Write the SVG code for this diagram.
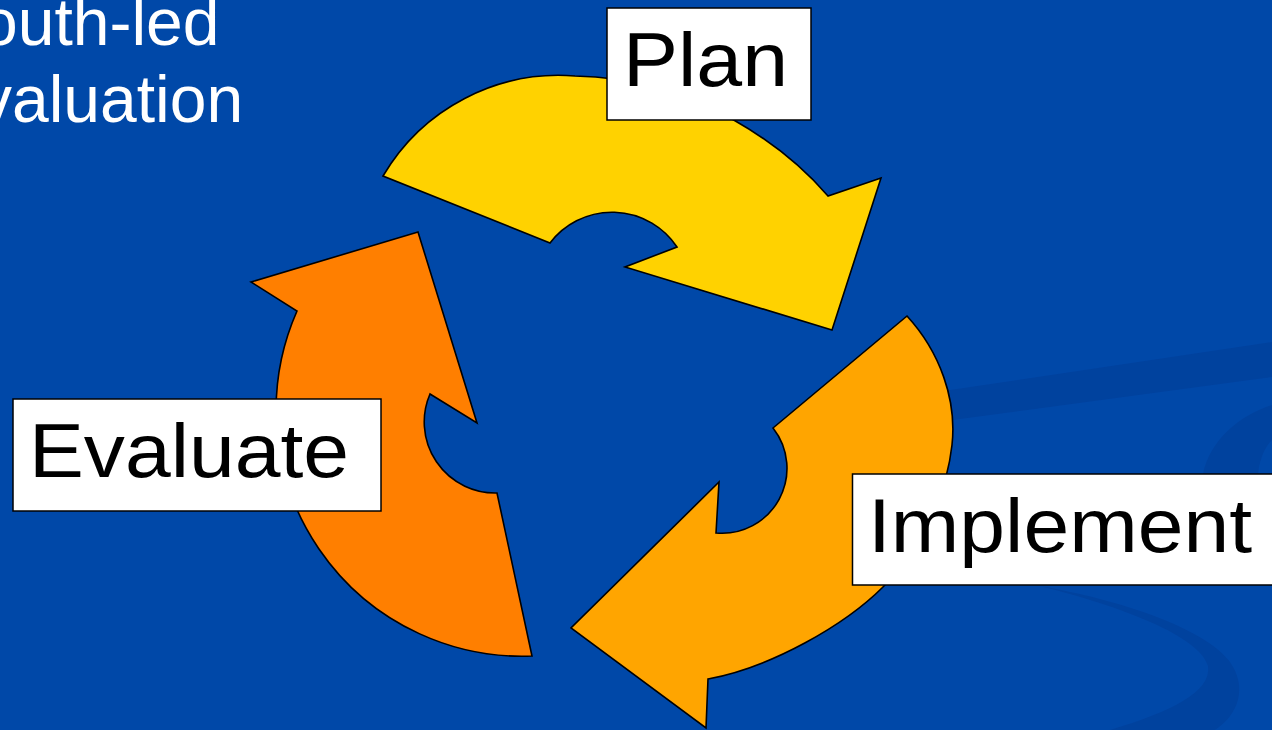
<svg xmlns="http://www.w3.org/2000/svg" width="1272" height="730" viewBox="0 0 1272 730">
<style>
.arrow{stroke:#000;stroke-width:1.6;stroke-linejoin:miter}
.box{fill:#fff;stroke:#000;stroke-width:1.5}
.lbl{font-family:"Liberation Sans",Arial,sans-serif;font-size:76px;fill:#000}
.title{font-family:"Liberation Sans",Arial,sans-serif;font-size:66px;fill:#fff}
.sw{fill:#00429E}
</style>
<rect width="1272" height="730" fill="#0048A8"/>
<g id="background-swooshes">
<path class="sw" d="M930,393 L1272,342 L1272,377 L930,423 Z"/>
<path class="sw" d="M1272,405 C1240,415 1210,440 1203,474 L1258,474 C1260,456 1266,446 1272,440 Z"/>
<path class="sw" d="M1040,586 C1120,600 1205,628 1230,662 C1248,688 1238,715 1215,730 L1110,730 C1170,712 1212,692 1208,666 C1200,636 1120,606 1040,586 Z"/>
</g>
<g id="title">
<text class="title" x="-19" y="45">outh-led</text>
<text class="title" x="-21" y="122">valuation</text>
</g>
<g id="connectors">
<path id="arrow-plan" class="arrow" fill="#FFD200" d="M383,176 A204,204 0 0 1 575,76 C700,78 790,152 828,196 L881,178 L832,330 L625,267 L677,247 A78,78 0 0 0 550,243 Z"/>
<path id="arrow-implement" class="arrow" fill="#FFA500" d="M907,316 C940,352 957,400 952,445 C947,490 925,545 883,587 C845,625 772,667 708,679 L706,728 L571,628 L719,482 L716,533 A65,65 0 0 0 773,428 Z"/>
<path id="arrow-evaluate" class="arrow" fill="#FF7F00" d="M418,232 L251,282 L297,311 A246,246 0 0 0 532,656 L497,493 A71,71 0 0 1 430,394 L477,423 Z"/>
</g>
<g id="node-plan">
<rect class="box" x="607" y="8" width="204" height="112"/>
<text class="lbl" x="623" y="86" textLength="165" lengthAdjust="spacingAndGlyphs">Plan</text>
</g>
<g id="node-implement">
<rect class="box" x="852.5" y="474" width="425" height="111"/>
<text class="lbl" x="868" y="552" textLength="384" lengthAdjust="spacingAndGlyphs">Implement</text>
</g>
<g id="node-evaluate">
<rect class="box" x="13" y="399" width="368" height="112"/>
<text class="lbl" x="29" y="477" textLength="320" lengthAdjust="spacingAndGlyphs">Evaluate</text>
</g>
</svg>
